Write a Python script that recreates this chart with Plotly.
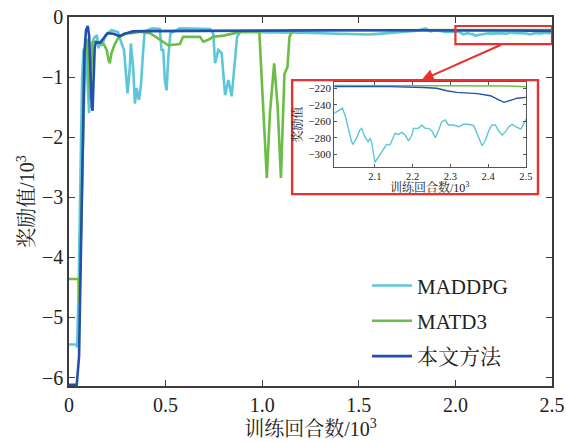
import plotly.graph_objects as go

# ---------------- data (x in 10^3 episodes, y in 10^3 reward) ----------------
maddpg_x = [0, 0.04, 0.042, 0.05, 0.06, 0.068, 0.075, 0.085, 0.095, 0.104, 0.11, 0.118, 0.13, 0.145,
            0.152, 0.159, 0.17, 0.19, 0.22, 0.254, 0.272, 0.285, 0.303, 0.315, 0.32, 0.332, 0.341,
            0.35, 0.362, 0.372, 0.384, 0.392, 0.43, 0.47, 0.479, 0.488, 0.496, 0.505, 0.514, 0.525,
            0.574, 0.65, 0.73, 0.747, 0.756, 0.773, 0.79, 0.808, 0.825, 0.842, 0.859, 0.87, 0.886,
            0.95, 1.0, 1.1, 1.2, 1.3, 1.4, 1.5, 1.55, 1.6, 1.7, 1.8, 1.845, 1.87, 1.9, 1.95]
maddpg_y = [-5.45, -5.45, -5.5, -4.5, -2.5, -1.0, -0.55, -0.5, -1.0, -1.6, -1.0, -0.45, -0.35, -0.3,
            -0.52, -0.43, -0.48, -0.3, -0.22, -0.25, -0.44, -0.55, -1.27, -0.83, -0.44, -0.83, -1.44,
            -1.18, -1.38, -1.15, -0.55, -0.24, -0.19, -0.2, -0.55, -0.55, -1.05, -1.22, -0.67, -0.27,
            -0.19, -0.2, -0.2, -0.28, -0.77, -0.55, -0.6, -1.3, -1.05, -1.32, -0.78, -0.33, -0.25,
            -0.25, -0.26, -0.25, -0.26, -0.27, -0.28, -0.29, -0.29, -0.28, -0.26, -0.23, -0.19, -0.24, -0.22, -0.25]

matd3_x = [0, 0.048, 0.05, 0.054, 0.07, 0.085, 0.095, 0.103, 0.11, 0.116, 0.122, 0.134, 0.155, 0.18,
           0.195, 0.205, 0.211, 0.22, 0.237, 0.26, 0.29, 0.33, 0.367, 0.42, 0.47, 0.514, 0.574, 0.59,
           0.678, 0.695, 0.721, 0.746, 0.8, 0.868, 0.9, 0.95, 0.985, 1.005, 1.024, 1.04, 1.062, 1.08,
           1.097, 1.115, 1.131, 1.141, 1.157, 1.3, 1.5, 1.7, 1.9]
matd3_y = [-4.36, -4.36, -4.36, -4.75, -2.5, -0.35, -0.4, -0.9, -1.38, -0.8, -0.42, -0.41, -0.42, -0.45,
           -0.55, -0.72, -0.77, -0.6, -0.45, -0.32, -0.27, -0.27, -0.245, -0.27, -0.38, -0.47, -0.45, -0.33,
           -0.33, -0.41, -0.38, -0.33, -0.31, -0.27, -0.24, -0.24, -0.24, -1.5, -2.68, -1.6, -0.77, -1.5,
           -2.68, -0.95, -0.83, -0.33, -0.23, -0.22, -0.218, -0.217, -0.217]

ours_x = [0, 0.04, 0.052, 0.064, 0.08, 0.088, 0.097, 0.104, 0.11, 0.118, 0.122, 0.127, 0.133, 0.14,
          0.16, 0.18, 0.2, 0.23, 0.263, 0.29, 0.33, 0.4, 0.6, 0.8, 1.0, 1.2, 1.4, 1.6, 1.8, 1.95]
ours_y = [-6.12, -6.12, -5.65, -3.4, -0.6, -0.22, -0.15, -0.3, -1.0, -1.5, -1.56, -1.2, -0.5, -0.42,
          -0.43, -0.35, -0.27, -0.28, -0.32, -0.28, -0.24, -0.235, -0.23, -0.225, -0.22, -0.22, -0.22,
          -0.22, -0.218, -0.218]

# ---------------- inset data (x in 10^3 episodes, raw reward) ----------------
in_maddpg_x = [1.992, 2.002, 2.014, 2.023, 2.029, 2.038, 2.042, 2.051, 2.06, 2.065, 2.073, 2.082, 2.087,
               2.091, 2.1, 2.104, 2.113, 2.122, 2.131, 2.14, 2.149, 2.153, 2.162, 2.171, 2.18, 2.189,
               2.198, 2.202, 2.215, 2.224, 2.233, 2.242, 2.251, 2.26, 2.269, 2.277, 2.286, 2.295, 2.308,
               2.322, 2.335, 2.348, 2.362, 2.371, 2.384, 2.393, 2.402, 2.41, 2.419, 2.428, 2.437, 2.446,
               2.455, 2.464, 2.473, 2.486, 2.493, 2.5]
in_maddpg_y = [-250.3, -247.5, -244, -256, -268.5, -284.6, -287.5, -280.6, -270.5, -268.5, -278.6, -284.6,
               -280.6, -284.6, -309.7, -306.9, -300.8, -294.7, -287.9, -288.7, -278.6, -274.5, -275.8,
               -273.3, -276.6, -283.8, -276.6, -268.5, -268.5, -264.4, -268.5, -268.5, -271.7, -279.8,
               -270.5, -260.4, -258.4, -264.4, -264.4, -266.5, -263.6, -263.6, -265.2, -274.5, -289.5,
               -282.6, -270.5, -264.4, -264.4, -271.7, -276.6, -272.5, -266.5, -263.6, -266.5, -269.3,
               -264.4, -257.2]
in_matd3_x = [1.992, 2.1, 2.2, 2.3, 2.4, 2.45, 2.5]
in_matd3_y = [-216.5, -216.5, -216.6, -216.7, -216.9, -217.3, -218.2]
in_ours_x = [1.992, 2.14, 2.229, 2.264, 2.29, 2.317, 2.371, 2.406, 2.424, 2.442, 2.459, 2.477, 2.5]
in_ours_y = [-218, -218, -219, -220, -223, -225, -226.5, -229, -233, -237, -234.6, -232, -231]

names = ["MADDPG", "MATD3", "本文方法"]
colors = ["#5cc7d6", "#6cbd45", "#2250ad"]

series = [(maddpg_x, maddpg_y, in_maddpg_x, in_maddpg_y),
          (matd3_x, matd3_y, in_matd3_x, in_matd3_y),
          (ours_x, ours_y, in_ours_x, in_ours_y)]

SERIF = "Liberation Serif, Times New Roman, Noto Serif CJK SC, Noto Sans CJK SC, serif"

fig = go.Figure()
for (mx, my, ix, iy), name, col in zip(series, names, colors):
    fx = list(mx) + list(ix)
    fy = list(my) + [v / 1000.0 for v in iy]
    fig.add_trace(go.Scatter(x=fx, y=fy, mode="lines", name=name, legendgroup=name,
                             line=dict(color=col, width=2.6), xaxis="x", yaxis="y"))
for (mx, my, ix, iy), name, col in zip(series, names, colors):
    fig.add_trace(go.Scatter(x=ix, y=iy, mode="lines", name=name, showlegend=False,
                             line=dict(color=col, width=1.4), xaxis="x2", yaxis="y2"))

axis_common = dict(showgrid=False, zeroline=False, showline=True, mirror="ticks",
                   linecolor="#3c3c3c", linewidth=1.5, ticks="inside", ticklen=6,
                   tickcolor="#3c3c3c", tickwidth=1.2, automargin=False,
                   ticklabeloverflow="allow")
inset_common = dict(showgrid=False, zeroline=False, showline=True, mirror="ticks",
                    linecolor="#555555", linewidth=1, ticks="inside", ticklen=3,
                    tickcolor="#555555", automargin=False)

fig.update_layout(
    width=566, height=443,
    margin=dict(l=69, r=14, t=17, b=57),
    paper_bgcolor="white", plot_bgcolor="white",
    font=dict(family=SERIF, color="#222222"),
    xaxis=dict(range=[0, 2.5], tickvals=[0, 0.5, 1, 1.5, 2, 2.5],
               ticktext=["0", "0.5", "1.0", "1.5", "2.0", "2.5"],
               tickfont=dict(size=20, family=SERIF),
               title=dict(text="训练回合数/10<sup>3</sup>", font=dict(size=20, family=SERIF), standoff=6),
               **axis_common),
    yaxis=dict(range=[-6.14, 0], tickvals=[0, -1, -2, -3, -4, -5, -6],
               ticktext=["0", "−1", "−2", "−3", "−4", "−5", "−6"],
               tickfont=dict(size=20, family=SERIF),
               title=dict(text="奖励值/10<sup>3</sup>", font=dict(size=20, family=SERIF), standoff=2),
               **axis_common),
    xaxis2=dict(domain=[0.549, 0.946], anchor="y2", range=[1.992, 2.5],
                tickvals=[2.1, 2.2, 2.3, 2.4, 2.5], ticktext=["2.1", "2.2", "2.3", "2.4", "2.5"],
                tickfont=dict(size=10.5, family=SERIF),
                **inset_common),
    yaxis2=dict(domain=[0.594, 0.823], anchor="x2", range=[-315, -212.8],
                tickvals=[-220, -240, -260, -280, -300],
                ticktext=["−220", "−240", "−260", "−280", "−300"],
                tickfont=dict(size=11, family=SERIF),
                title=dict(text="奖励值", font=dict(size=12, family=SERIF), standoff=3),
                **inset_common),
    legend=dict(x=0.617, y=0.327, xanchor="left", yanchor="top", bgcolor="rgba(0,0,0,0)",
                font=dict(size=21, family=SERIF), tracegroupgap=5, itemwidth=40),
    showlegend=True,
)

# inset x-axis title
fig.add_annotation(xref="paper", yref="paper", x=0.7475, y=0.537, xanchor="center", yanchor="middle",
                   text="训练回合数/10<sup>3</sup>", showarrow=False,
                   font=dict(size=12, family=SERIF, color="#222222"))
# zoom region box on main axes
fig.add_shape(type="rect", xref="x", yref="y", x0=2.0, x1=2.5, y0=-0.45, y1=-0.15,
              line=dict(color="#e8322f", width=2.2), layer="above")
# inset frame
fig.add_shape(type="rect", xref="paper", yref="paper", x0=0.462, x1=0.971, y0=0.520, y1=0.829,
              line=dict(color="#e8322f", width=2.4), layer="above")
# arrow from zoom box to inset
fig.add_annotation(xref="paper", yref="paper", x=0.730, y=0.829, ax=81, ay=-36,
                   showarrow=True, arrowhead=2, arrowsize=1.2, arrowwidth=2,
                   arrowcolor="#e8322f", text="")

# remove the default page margin so the figure fills the window exactly; hide the modebar
fig.write_html("out.html", config={"displayModeBar": False},
               post_script="document.body.style.margin='0';")
